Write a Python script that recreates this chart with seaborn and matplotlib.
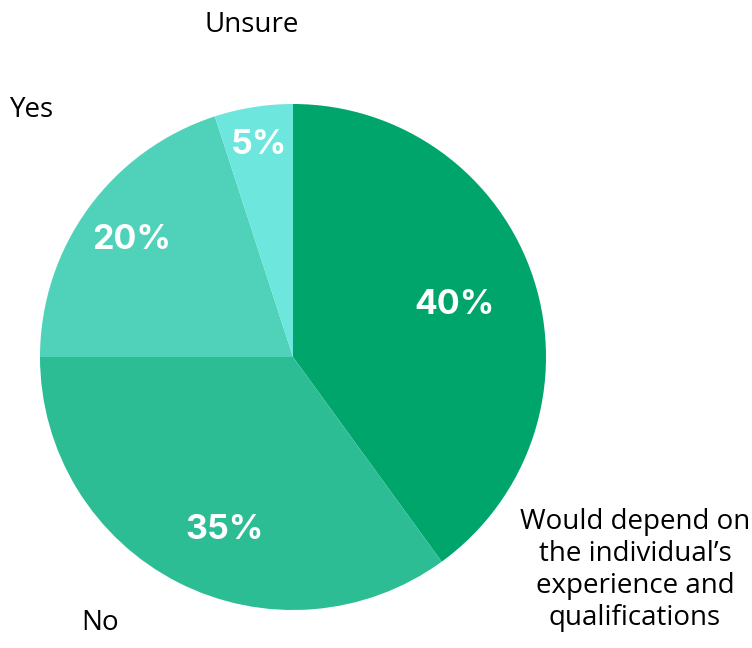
import matplotlib
matplotlib.use("Agg")
import matplotlib.pyplot as plt
import seaborn as sns
import numpy as np

sns.set_theme(style="white")

categories = ["Would depend on\nthe individual\u2019s\nexperience and\nqualifications", "No", "Yes", "Unsure"]
shares = [40, 35, 20, 5]
pct_labels = ["40%", "35%", "20%", "5%"]
colors = ["#00a56c", "#2dbd94", "#4fd2b9", "#6de6dd"]

# placement of the percentage labels within each wedge
pct_radius = [0.67, 0.735, 0.79, 0.85]
pct_angle_shift = [0, 5.5, 0, 0]
# where the category names sit (figure pixels, origin bottom-left)
name_pos = [(635, 78), (100, 25), (32, 538), (252, 623)]

W, H = 752, 648
fig = plt.figure(figsize=(W / 100, H / 100), dpi=100)
ax = fig.add_axes([0, 0, 1, 1])

cx, cy, R = 293, 291, 253
wedges, _ = ax.pie(shares, colors=colors, startangle=90, counterclock=False,
                   center=(cx, cy), radius=R, frame=True,
                   wedgeprops=dict(linewidth=0))
ax.set_xlim(0, W)
ax.set_ylim(0, H)
ax.set_aspect("equal")
ax.axis("off")

for w, lab, r, s in zip(wedges, pct_labels, pct_radius, pct_angle_shift):
    ang = np.deg2rad((w.theta1 + w.theta2) / 2 + s)
    x = cx + r * R * np.cos(ang)
    y = cy + r * R * np.sin(ang)
    ax.text(x, y, lab, ha="center", va="center", color="white",
            fontsize=24.5, fontweight="bold", family=["Inter", "DejaVu Sans"])

for name, (x, y) in zip(categories, name_pos):
    ax.text(x, y, name, ha="center", va="center", color="black",
            fontsize=20, family=["Open Sans", "DejaVu Sans"], linespacing=1.2)

fig.savefig("out.png", dpi=100, facecolor="white")
